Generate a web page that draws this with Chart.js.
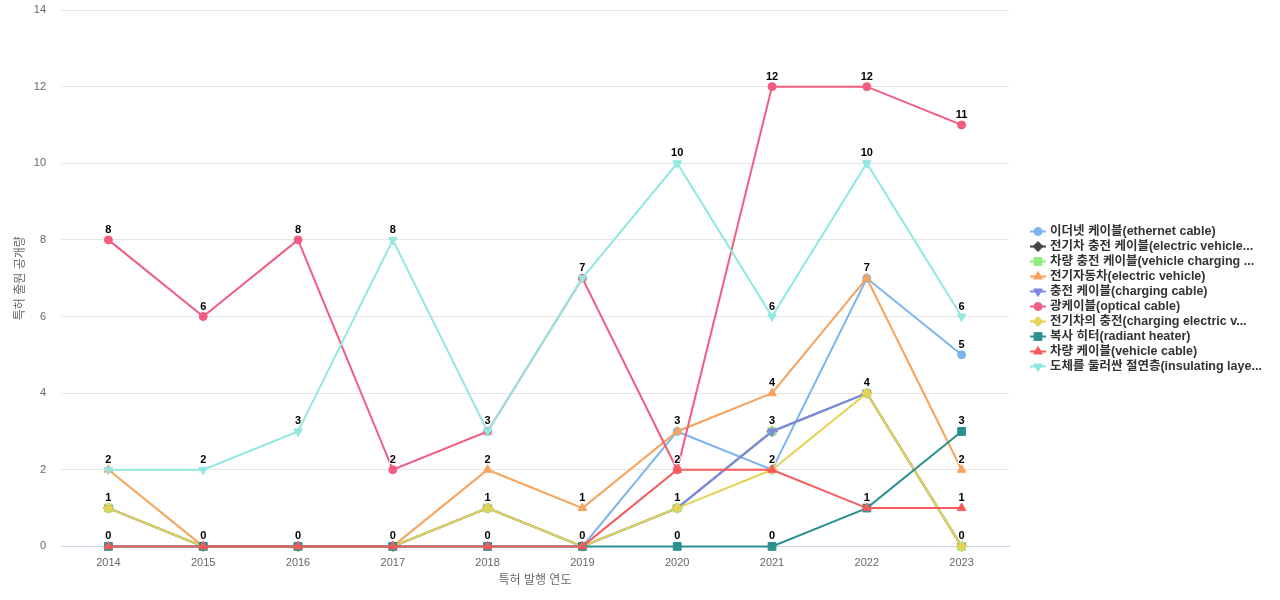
<!DOCTYPE html>
<html>
<head>
<meta charset="utf-8">
<script src="https://cdn.jsdelivr.net/npm/chart.js@4/dist/chart.umd.min.js"></script>
<style>
  html, body { margin: 0; padding: 0; background: #fff; }
  #wrap { width: 1280px; height: 600px; }
</style>
</head>
<body>
<div id="wrap"><canvas id="line-chart"></canvas></div>
<script>
const years = ["2014", "2015", "2016", "2017", "2018", "2019", "2020", "2021", "2022", "2023"];

const ethernetCable = [0, 0, 0, 0, 0, 0, 3, 2, 7, 5];
const evChargingCable = [1, 0, 0, 0, 1, 0, 1, 3, 4, 0];
const vehicleChargingCable = [1, 0, 0, 0, 1, 0, 1, 3, 4, 0];
const electricVehicle = [2, 0, 0, 0, 2, 1, 3, 4, 7, 2];
const chargingCable = [1, 0, 0, 0, 1, 0, 1, 3, 4, 0];
const opticalCable = [8, 6, 8, 2, 3, 7, 2, 12, 12, 11];
const chargingEv = [1, 0, 0, 0, 1, 0, 1, 2, 4, 0];
const radiantHeater = [0, 0, 0, 0, 0, 0, 0, 0, 1, 3];
const vehicleCable = [0, 0, 0, 0, 0, 0, 2, 2, 1, 1];
const insulatingLayer = [2, 2, 3, 8, 3, 7, 10, 6, 10, 6];

const seriesNames = [
  "이더넷 케이블(ethernet cable)",
  "전기차 충전 케이블(electric vehicle...",
  "차량 충전 케이블(vehicle charging ...",
  "전기자동차(electric vehicle)",
  "충전 케이블(charging cable)",
  "광케이블(optical cable)",
  "전기차의 충전(charging electric v...",
  "복사 히터(radiant heater)",
  "차량 케이블(vehicle cable)",
  "도체를 둘러싼 절연층(insulating laye..."
];
const seriesValues = [ethernetCable, evChargingCable, vehicleChargingCable, electricVehicle, chargingCable,
  opticalCable, chargingEv, radiantHeater, vehicleCable, insulatingLayer];
const colors = ["#7cb5ec", "#434348", "#90ed7d", "#f7a35c", "#8085e9", "#f15c80", "#e4d354", "#2b908f", "#f45b5b", "#91e8e1"];
const shapes = ["circle", "rectRot", "rect", "triangle", "triangle", "circle", "rectRot", "rect", "triangle", "triangle"];
const rotations = [0, 0, 0, 0, 180, 0, 0, 0, 0, 180];

const FONT = "'Liberation Sans', 'Noto Sans CJK KR', sans-serif";

// chart.js shapes come out smaller than circles for the same radius
const radiusFor = (shape) => ({ circle: 4, rectRot: 5, rect: 5.5, triangle: 5 }[shape]);

const datasets = seriesNames.map((name, i) => ({
  label: name,
  data: seriesValues[i],
  borderColor: colors[i],
  backgroundColor: colors[i],
  borderWidth: 2,
  pointStyle: shapes[i],
  pointRotation: rotations[i],
  pointRadius: radiusFor(shapes[i]),
  pointHoverRadius: radiusFor(shapes[i]) + 1,
  pointBorderWidth: 1,
  tension: 0,
  clip: false,
  order: 20 - i,
}));

// value labels above points, one per (year, value)
const valueLabels = {
  id: "valueLabels",
  afterDatasetsDraw(chart) {
    const ctx = chart.ctx;
    const seen = {};
    ctx.save();
    ctx.font = "bold 11px " + FONT;
    ctx.textAlign = "center";
    ctx.textBaseline = "middle";
    ctx.lineJoin = "round";
    chart.data.datasets.forEach((ds, di) => {
      const meta = chart.getDatasetMeta(di);
      meta.data.forEach((pt, i) => {
        const key = i + "|" + ds.data[i];
        if (seen[key]) return;
        seen[key] = true;
        ctx.strokeStyle = "#fff";
        ctx.lineWidth = 2;
        ctx.strokeText(String(ds.data[i]), pt.x, pt.y - 10);
        ctx.fillStyle = "#000";
        ctx.fillText(String(ds.data[i]), pt.x, pt.y - 10);
      });
    });
    ctx.restore();
  },
};

// legend on the right: line + marker, then the name
const sideLegend = {
  id: "sideLegend",
  afterDraw(chart) {
    const ctx = chart.ctx;
    const items = chart.data.datasets;
    const step = 15;
    const x0 = 1030;
    let y = chart.height / 2 - ((items.length - 1) * step) / 2 - 1;
    ctx.save();
    ctx.font = "bold 12.5px " + FONT;
    ctx.textBaseline = "middle";
    ctx.textAlign = "left";
    items.forEach((ds) => {
      ctx.strokeStyle = ds.borderColor;
      ctx.lineWidth = 2;
      ctx.beginPath();
      ctx.moveTo(x0, y);
      ctx.lineTo(x0 + 16, y);
      ctx.stroke();
      ctx.fillStyle = ds.borderColor;
      ctx.lineWidth = 1;
      Chart.helpers.drawPoint(ctx, { pointStyle: ds.pointStyle, radius: ds.pointRadius, rotation: ds.pointRotation, borderWidth: 1 }, x0 + 8, y);
      ctx.fillStyle = "#333";
      ctx.fillText(ds.label, x0 + 20, y);
      y += step;
    });
    ctx.restore();
  },
};

const lineChart = new Chart(document.getElementById("line-chart"), {
  type: "line",
  data: { labels: years, datasets: datasets },
  plugins: [valueLabels, sideLegend],
  options: {
    responsive: true,
    maintainAspectRatio: false,
    animation: false,
    layout: { padding: { top: 10, right: 271, left: 9, bottom: 8 } },
    plugins: {
      tooltip: { enabled: false },
      legend: { display: false },
    },
    scales: {
      x: {
        offset: true,
        grid: { display: true, drawOnChartArea: false, drawTicks: false, color: "transparent" },
        border: { display: true, color: "#ccd6eb", width: 1 },
        ticks: { color: "#666", padding: 10, font: { family: FONT, size: 11 } },
        title: { display: true, text: "특허 발행 연도", color: "#666", font: { family: FONT, size: 12 }, padding: { top: -6 } },
      },
      y: {
        min: 0,
        max: 14,
        ticks: { stepSize: 2, color: "#666", padding: 3, font: { family: FONT, size: 11 } },
        grid: { color: "#e6e6e6", drawTicks: true, tickLength: 12, tickColor: "transparent" },
        border: { display: false },
        title: { display: true, text: "특허 출원 공개량", color: "#666", font: { family: FONT, size: 12 }, padding: { bottom: 0 } },
        afterFit: (scale) => { scale.width = 52; },
      },
    },
  },
});
</script>
</body>
</html>
